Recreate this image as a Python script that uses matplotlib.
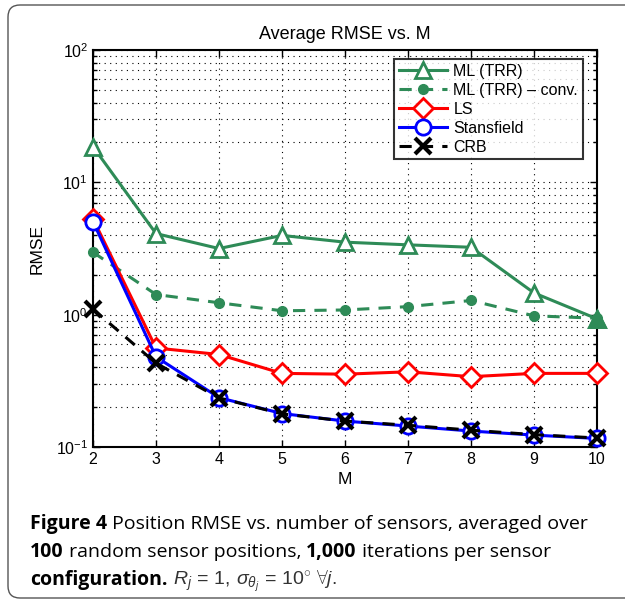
import matplotlib
matplotlib.use("Agg")
import matplotlib.pyplot as plt
from matplotlib.patches import PathPatch
from matplotlib.path import Path
from matplotlib.ticker import LogLocator, NullFormatter, FixedLocator

plt.rcParams['font.family'] = ['Liberation Sans', 'DejaVu Sans']
plt.rcParams['mathtext.fontset'] = 'custom'
plt.rcParams['mathtext.rm'] = 'Liberation Sans'
plt.rcParams['mathtext.it'] = 'Liberation Sans:italic'
plt.rcParams['mathtext.bf'] = 'Liberation Sans:bold'

# ---- data ----
M = [2, 3, 4, 5, 6, 7, 8, 9, 10]
ml_trr = [18.6, 4.1, 3.16, 3.97, 3.53, 3.37, 3.23, 1.46, 0.93]
ml_trr_conv = [2.96, 1.42, 1.23, 1.07, 1.085, 1.15, 1.28, 0.98, 0.94]
ls = [5.3, 0.56, 0.50, 0.36, 0.355, 0.37, 0.34, 0.36, 0.36]
stansfield = [5.05, 0.48, 0.236, 0.179, 0.157, 0.144, 0.132, 0.123, 0.116]
crb = [1.10, 0.43, 0.235, 0.178, 0.157, 0.146, 0.134, 0.124, 0.117]
labels = ["ML (TRR)", "ML (TRR) \u2013 conv.", "LS", "Stansfield", "CRB"]
title = "Average RMSE vs. M"
xlabel = "M"
ylabel = "RMSE"

green = "#2E8B57"

fig = plt.figure(figsize=(6.25, 6.05), dpi=100)
W, H = 625, 605

# rounded frame open to the right (pixel coords -> figure fraction)
def P(x, y):
    return (x / W, 1 - y / H)

L, T, B, R, r = 8, 5, 598, 640, 12
verts = [P(R, T), P(L + r, T), P(L, T), P(L, T + r), P(L, B - r), P(L, B), P(L + r, B), P(R, B)]
codes = [Path.MOVETO, Path.LINETO, Path.CURVE3, Path.CURVE3, Path.LINETO,
         Path.CURVE3, Path.CURVE3, Path.LINETO]
frame = PathPatch(Path(verts, codes), transform=fig.transFigure, fill=False,
                  edgecolor="#555555", linewidth=1.0)
fig.patches.append(frame)

ax = fig.add_axes([93 / W, 1 - 447 / H, (597 - 93) / W, (447 - 50) / H])

lw = 2.2
ax.plot(M, ml_trr, '-', color=green, lw=lw, marker='^', ms=12,
        mfc='white', mec=green, mew=2, label=labels[0], zorder=3, clip_on=False)
ax.plot(M[-1:], ml_trr[-1:], '^', color=green, ms=12, mfc=green,
        mec=green, mew=2, zorder=3, clip_on=False)
ax.plot(M, ml_trr_conv, '--', color=green, lw=lw, marker='o', ms=7,
        mfc=green, mec=green, dashes=(4, 3), label=labels[1], zorder=3, clip_on=False)
ax.plot(M, ls, '-', color='#FF0000', lw=lw, marker='D', ms=10,
        mfc='white', mec='#FF0000', mew=2, label=labels[2], zorder=4, clip_on=False)
ax.plot(M, stansfield, '-', color='#0000FF', lw=lw, marker='o', ms=11,
        mfc='white', mec='#0000FF', mew=2, label=labels[3], zorder=5, clip_on=False)
ax.plot(M, crb, '--', color='black', lw=lw, marker='x', ms=11, mew=3,
        dashes=(4, 3), label=labels[4], zorder=6, clip_on=False)

ax.set_yscale('log')
ax.set_xlim(2, 10)
ax.set_ylim(0.1, 100)
ax.xaxis.set_major_locator(FixedLocator(M))
ax.yaxis.set_major_locator(LogLocator(base=10, numticks=10))
ax.yaxis.set_minor_locator(LogLocator(base=10, subs=range(2, 10), numticks=20))
ax.yaxis.set_minor_formatter(NullFormatter())

ax.grid(True, which='major', axis='both', linestyle=(0, (1, 4)), color='black', lw=0.8)
ax.grid(True, which='minor', axis='y', linestyle=(0, (1, 4)), color='black', lw=0.8)

ax.tick_params(which='both', direction='in', top=True, right=True, labelsize=11.5, width=1)
ax.tick_params(which='major', length=5)
ax.tick_params(which='minor', length=3)
for s in ax.spines.values():
    s.set_linewidth(1.5)

ax.set_title(title, fontsize=13, pad=8)
ax.set_xlabel(xlabel, fontsize=12.5, labelpad=4)
ax.set_ylabel(ylabel, fontsize=12.5, labelpad=8)

leg = ax.legend(loc='upper right', fontsize=11.5, frameon=True, fancybox=False,
                edgecolor='black', handlelength=3.0, borderpad=0.3,
                labelspacing=0.25, handletextpad=0.4,
                bbox_to_anchor=(0.988, 0.998))
leg.get_frame().set_linewidth(1.5)
leg.set_zorder(10)

# caption with mixed bold / regular
cap_font = ['Open Sans', 'DejaVu Sans']
cap_size = 14
renderer = fig.canvas.get_renderer()


def put_line(pieces, x0, y):
    x = x0
    for txt, weight, extra in pieces:
        t = fig.text(x / W, 1 - y / H, txt, fontsize=cap_size, family=cap_font,
                     fontweight=weight, va='baseline', ha='left', **extra)
        bb = t.get_window_extent(renderer)
        x += bb.width


put_line([("Figure 4", 'bold', {}),
          (" Position RMSE vs. number of sensors, averaged over", 'normal', {})],
         30, 529)
put_line([("100", 'bold', {}),
          (" random sensor positions, ", 'normal', {}),
          ("1,000", 'bold', {}),
          (" iterations per sensor", 'normal', {})],
         30, 557)
put_line([("configuration.", 'bold', {}),
          (" ", 'normal', {}),
          (r"$R_j\,=\,1,\,\sigma_{\theta_j}\,=\,10^{\circ}\ \forall j.$", 'normal',
           {'color': '#333333'})],
         30, 585)

fig.savefig("out.png", dpi=100)
